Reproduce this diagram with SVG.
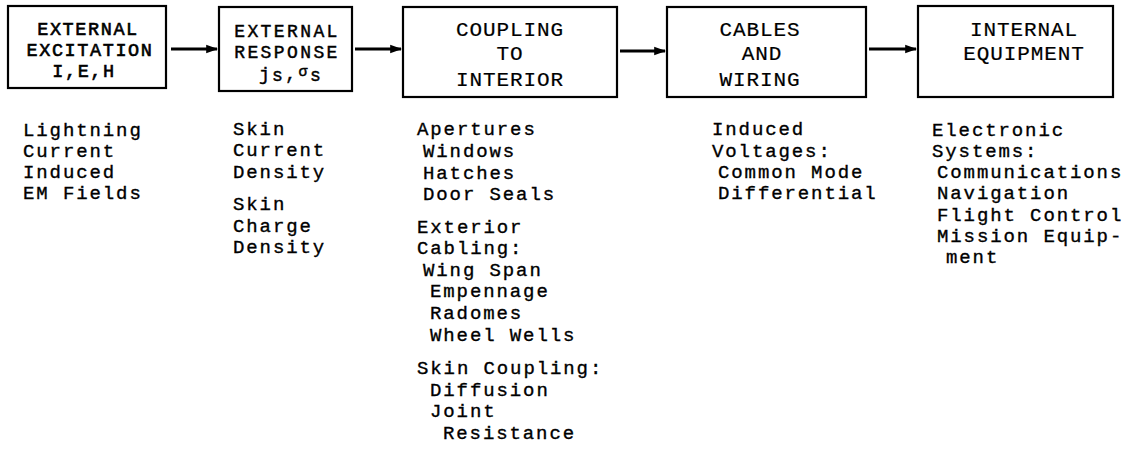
<svg xmlns="http://www.w3.org/2000/svg" width="1132" height="455" viewBox="0 0 1132 455">
<style>
.box{fill:#fff;stroke:#000;stroke-width:2.2}
.t{font-family:"Liberation Mono","DejaVu Sans Mono",monospace;font-size:19px;letter-spacing:1.9px;fill:#000;stroke:#000;stroke-width:0.35}
.b1{font-family:"Liberation Mono","DejaVu Sans Mono",monospace;font-size:18.5px;letter-spacing:1.6px;fill:#000;stroke:#000;stroke-width:0.6;text-anchor:middle}
.b2{font-family:"Liberation Mono","DejaVu Sans Mono",monospace;font-size:18px;letter-spacing:2.4px;fill:#000;stroke:#000;stroke-width:0.45;text-anchor:middle}
.bt{font-family:"Liberation Mono","DejaVu Sans Mono",monospace;font-size:21px;letter-spacing:0.9px;fill:#000;stroke:#000;stroke-width:0.2;text-anchor:middle}
.conn{stroke:#000;stroke-width:3;fill:none}
</style>
<defs>
<marker id="ah" viewBox="0 0 10 10" refX="9" refY="5" markerWidth="4" markerHeight="4" orient="auto" markerUnits="strokeWidth">
<path d="M0,1.5 L10,5 L0,8.5 Z" fill="#000"/>
</marker>
</defs>
<rect width="1132" height="455" fill="#fff"/>
<g id="connectors">
<line class="conn" x1="171" y1="49" x2="217" y2="49" marker-end="url(#ah)"/>
<line class="conn" x1="355" y1="49" x2="401" y2="49" marker-end="url(#ah)"/>
<line class="conn" x1="620" y1="51" x2="665" y2="51" marker-end="url(#ah)"/>
<line class="conn" x1="869" y1="49" x2="916" y2="49" marker-end="url(#ah)"/>
</g>
<g id="n1">
<rect class="box" x="8" y="6" width="158" height="82"/>
<text class="b1" x="88" y="35">EXTERNAL</text>
<text class="b1" x="90" y="56">EXCITATION</text>
<text class="b1" x="84" y="77">I,E,H</text>
</g>
<g id="n2">
<rect class="box" x="219" y="7" width="133" height="84"/>
<text class="b2" x="287" y="37">EXTERNAL</text>
<text class="b2" x="287" y="58">RESPONSE</text>
<text class="b2" x="291" y="80">j<tspan dy="1">s</tspan><tspan dy="-1">,</tspan><tspan dy="-4" style="font-size:15px">σ</tspan><tspan dy="5">s</tspan></text>
</g>
<g id="n3">
<rect class="box" x="403" y="7" width="214" height="90"/>
<text class="bt" x="510" y="36">COUPLING</text>
<text class="bt" x="510" y="60">TO</text>
<text class="bt" x="510" y="86">INTERIOR</text>
</g>
<g id="n4">
<rect class="box" x="667" y="7" width="199" height="90"/>
<text class="bt" x="760" y="36">CABLES</text>
<text class="bt" x="762" y="60">AND</text>
<text class="bt" x="760" y="86">WIRING</text>
</g>
<g id="n5">
<rect class="box" x="918" y="6" width="195" height="91"/>
<text class="bt" x="1024" y="36">INTERNAL</text>
<text class="bt" x="1024" y="60">EQUIPMENT</text>
</g>
<g id="c1">
<text class="t" x="23" y="136">Lightning</text>
<text class="t" x="23" y="157">Current</text>
<text class="t" x="23" y="178">Induced</text>
<text class="t" x="23" y="199">EM Fields</text>
</g>
<g id="c2">
<text class="t" x="233" y="135">Skin</text>
<text class="t" x="233" y="156">Current</text>
<text class="t" x="233" y="178">Density</text>
<text class="t" x="233" y="210">Skin</text>
<text class="t" x="233" y="232">Charge</text>
<text class="t" x="233" y="253">Density</text>
</g>
<g id="c3">
<text class="t" x="417" y="135">Apertures</text>
<text class="t" x="423" y="157">Windows</text>
<text class="t" x="423" y="179">Hatches</text>
<text class="t" x="423" y="200">Door Seals</text>
<text class="t" x="417" y="233">Exterior</text>
<text class="t" x="417" y="254">Cabling:</text>
<text class="t" x="423" y="276">Wing Span</text>
<text class="t" x="430" y="297">Empennage</text>
<text class="t" x="430" y="319">Radomes</text>
<text class="t" x="430" y="341">Wheel Wells</text>
<text class="t" x="417" y="374">Skin Coupling:</text>
<text class="t" x="430" y="396">Diffusion</text>
<text class="t" x="430" y="417">Joint</text>
<text class="t" x="443" y="439">Resistance</text>
</g>
<g id="c4">
<text class="t" x="712" y="135">Induced</text>
<text class="t" x="712" y="157">Voltages:</text>
<text class="t" x="718" y="178">Common Mode</text>
<text class="t" x="718" y="199">Differential</text>
</g>
<g id="c5">
<text class="t" x="932" y="136">Electronic</text>
<text class="t" x="932" y="157">Systems:</text>
<text class="t" x="937" y="178">Communications</text>
<text class="t" x="937" y="199">Navigation</text>
<text class="t" x="937" y="221">Flight Control</text>
<text class="t" x="937" y="242">Mission Equip-</text>
<text class="t" x="946" y="263">ment</text>
</g>
</svg>
